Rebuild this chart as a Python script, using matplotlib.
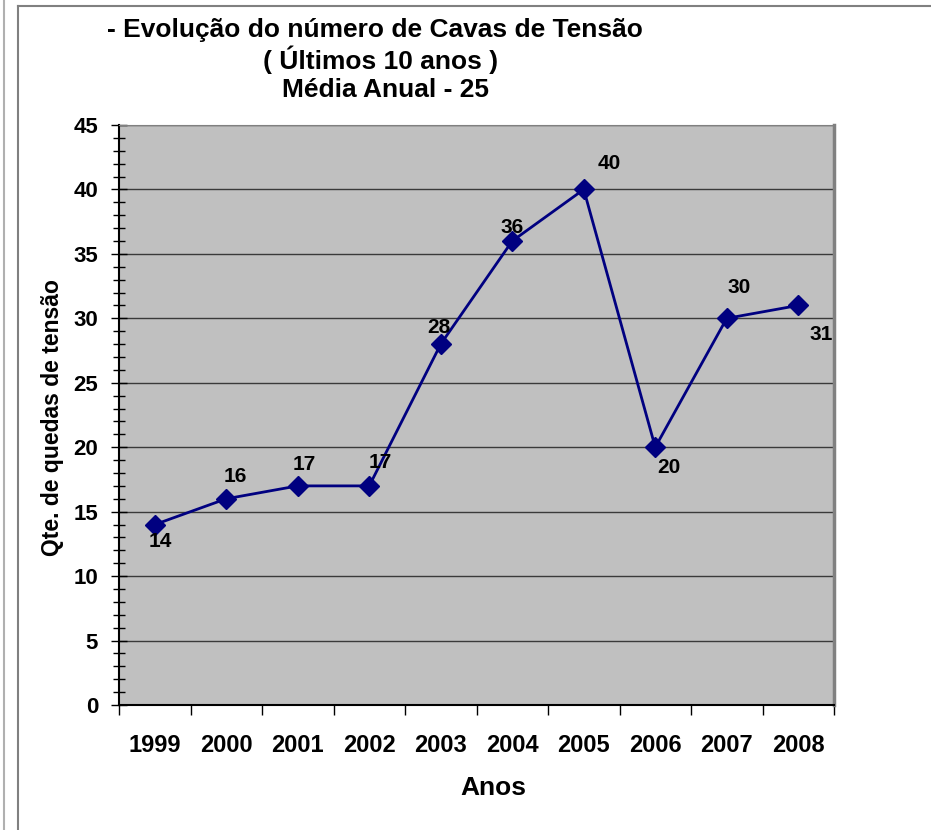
import numpy as np
import matplotlib
matplotlib.use("Agg")
import matplotlib.pyplot as plt
from matplotlib.lines import Line2D
from matplotlib.ticker import MultipleLocator

plt.rcParams['font.family'] = ['Liberation Sans', 'DejaVu Sans']
plt.rcParams['font.weight'] = 'bold'

anos = ['1999', '2000', '2001', '2002', '2003', '2004', '2005', '2006', '2007', '2008']
cavas = [14, 16, 17, 17, 28, 36, 40, 20, 30, 31]
# label offsets in pixels (dx, dy) relative to each point
offsets = [(6, -17), (9, 22), (7, 21), (11, 23), (-2, 17), (0, 14),
           (25, 26), (14, -20), (12, 31), (23, -29)]

W, H = 931, 830
fig = plt.figure(figsize=(W / 100, H / 100), dpi=100)
ax = fig.add_axes([119 / W, 1 - 705 / H, (834 - 119) / W, (705 - 125) / H])
ax.set_facecolor('#C0C0C0')

x = np.arange(len(anos))
ax.plot(x, cavas, color='#000080', lw=2, marker='D', ms=10.5, zorder=3)
for xi, v, (dx, dy) in zip(x, cavas, offsets):
    ax.annotate(str(v), (xi, v), xytext=(dx * 0.72, dy * 0.72), textcoords='offset points',
                ha='center', va='center', fontsize=15, fontweight='bold')

ax.set_xlim(-0.5, len(anos) - 0.5)
ax.set_ylim(0, 45)
ax.yaxis.set_major_locator(MultipleLocator(5))
ax.yaxis.set_minor_locator(MultipleLocator(1))
ax.grid(axis='y', which='major', color='#3a3a3a', lw=1)
ax.set_axisbelow(True)

ax.set_xticks(np.arange(len(anos) + 1) - 0.5)
ax.set_xticklabels([])
ax.set_xticks(x, minor=True)
ax.set_xticklabels(anos, minor=True, fontsize=17, fontweight='bold')
ax.tick_params(axis='x', which='major', direction='out', length=7, width=1)
ax.tick_params(axis='x', which='minor', length=0, pad=21)
ax.tick_params(axis='y', which='major', direction='inout', length=12, width=1, labelsize=16, pad=9)
ax.tick_params(axis='y', which='minor', direction='inout', length=8, width=1)
for lbl in ax.get_yticklabels():
    lbl.set_fontweight('bold')

for s in ['left', 'bottom']:
    ax.spines[s].set_color('black')
    ax.spines[s].set_linewidth(1.5)
ax.spines['top'].set_color('#808080')
ax.spines['right'].set_color('#808080')
ax.spines['right'].set_linewidth(2.5)

ax.set_xlabel('Anos', fontsize=19, fontweight='bold')
ax.xaxis.set_label_coords((493 - 119) / 715, -(776 - 705) / 580)
ax.set_ylabel('Qte. de quedas de tensão', fontsize=16.5, fontweight='bold')
ax.yaxis.set_label_coords(-(119 - 64) / 715, (705 - 418) / 580)

fig.text(375 / W, 1 - 30 / H, '- Evolução do número de Cavas de Tensão', ha='center', va='center',
         fontsize=19, fontweight='bold')
fig.text(381 / W, 1 - 60 / H, '( Últimos 10 anos )', ha='center', va='center',
         fontsize=19, fontweight='bold')
fig.text(385 / W, 1 - 90 / H, 'Média Anual - 25', ha='center', va='center',
         fontsize=19, fontweight='bold')

# outer frame pieces
fig.add_artist(Line2D([4 / W, 4 / W], [0, 1], color='#B0B0B0', lw=1.5))
fig.add_artist(Line2D([18 / W, 18 / W], [0, 1 - 6 / H], color='#808080', lw=1.5))
fig.add_artist(Line2D([18 / W, 1], [1 - 6 / H, 1 - 6 / H], color='#808080', lw=1.5))

fig.savefig('out.png', dpi=100)
